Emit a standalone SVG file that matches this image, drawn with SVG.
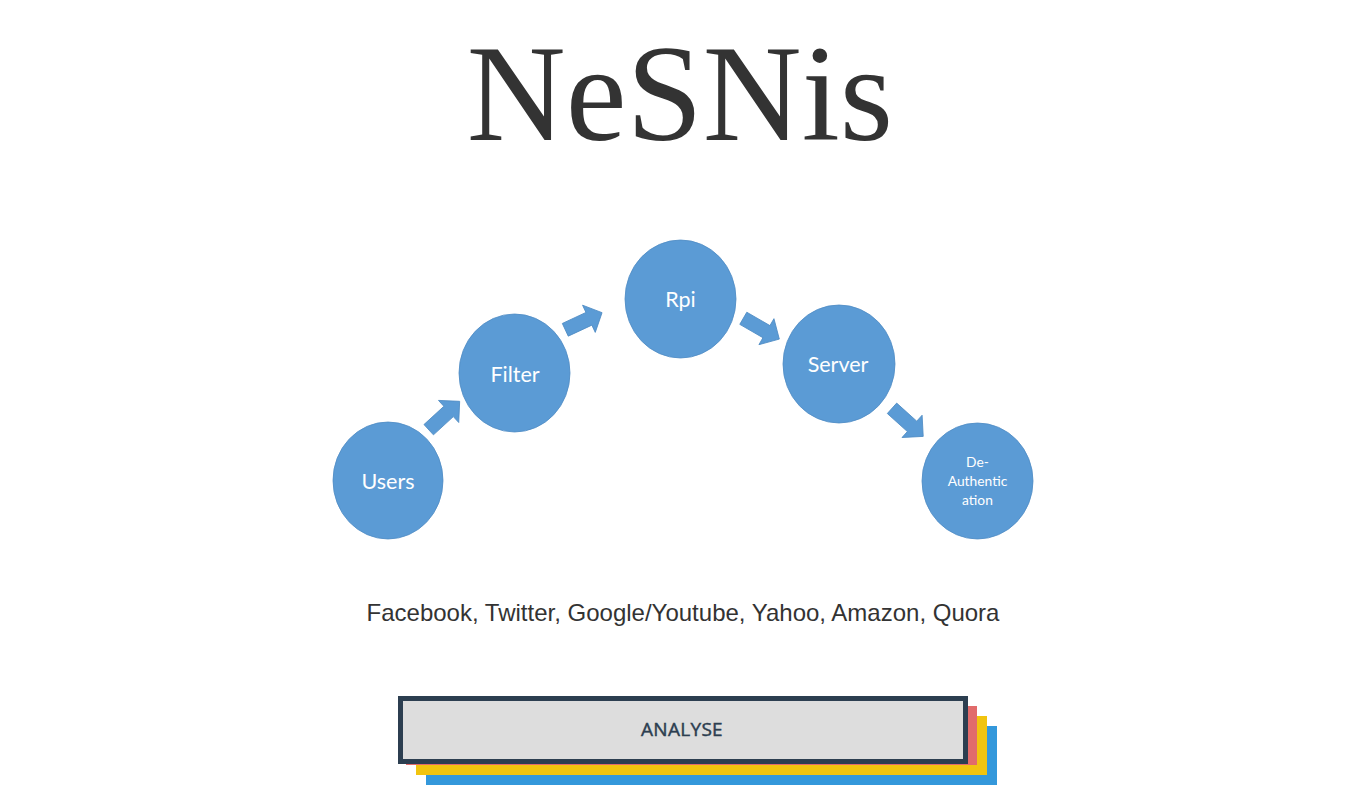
<svg xmlns="http://www.w3.org/2000/svg" width="1366" height="804" viewBox="0 0 1366 804">
<defs>
<style>
.node{fill:#5b9bd5;stroke:#4f8cc4;stroke-width:0.8}
.lbl{fill:#ffffff;font-family:Lato,"Open Sans","Liberation Sans",sans-serif;text-anchor:middle}
.arrow{fill:#5b9bd5;stroke:#4f8cc4;stroke-width:0.8}
</style>
<polygon id="arr" points="0,-7 27,-7 27,-15 42,0 27,15 27,7 0,7"/>
</defs>
<rect width="1366" height="804" fill="#ffffff"/>
<text x="680" y="140" font-family="'Liberation Serif','Times New Roman',serif" font-size="137" fill="#333333" text-anchor="middle">NeSNis</text>
<g id="connectors">
<use href="#arr" class="arrow" transform="translate(428.7,429.7) rotate(-42.5)"/>
<use href="#arr" class="arrow" transform="translate(565.3,329.8) rotate(-25) scale(0.965,1)"/>
<use href="#arr" class="arrow" transform="translate(743.3,318.3) rotate(30) scale(0.99,1)"/>
<use href="#arr" class="arrow" transform="translate(892,408.3) rotate(42)"/>
</g>
<g id="users"><ellipse class="node" cx="388" cy="480.5" rx="55" ry="58.5"/><text class="lbl" x="388" y="489" font-size="21.5">Users</text></g>
<g id="filter"><ellipse class="node" cx="514.5" cy="373" rx="55.5" ry="59"/><text class="lbl" x="515" y="382" font-size="21.5">Filter</text></g>
<g id="rpi"><ellipse class="node" cx="680.5" cy="299" rx="55.5" ry="59"/><text class="lbl" x="680.5" y="307" font-size="21.5">Rpi</text></g>
<g id="server"><ellipse class="node" cx="839" cy="364" rx="56" ry="59"/><text class="lbl" x="838" y="372" font-size="21.5">Server</text></g>
<g id="deauth"><ellipse class="node" cx="977.5" cy="481" rx="55.5" ry="58"/><text class="lbl" font-size="13.8"><tspan x="977.5" y="467">De-</tspan><tspan x="977.5" y="486">Authentic</tspan><tspan x="977.5" y="505">ation</tspan></text></g>
<text x="683" y="621" font-family="'Liberation Sans',Arial,sans-serif" font-size="24" fill="#333333" text-anchor="middle">Facebook, Twitter, Google/Youtube, Yahoo, Amazon, Quora</text>
<g id="analyse">
<rect x="426" y="726" width="571" height="59" fill="#3498db"/>
<rect x="416" y="716" width="571" height="59" fill="#f1c40f"/>
<rect x="406" y="706" width="571" height="59" fill="#e16b6b"/>
<rect x="400.5" y="698.5" width="565" height="63" fill="#dddddd" stroke="#2c3e50" stroke-width="5"/>
<text x="682" y="736" font-family="'Open Sans','Noto Sans',sans-serif" font-size="19" letter-spacing="0.3" fill="#2c3e50" stroke="#2c3e50" stroke-width="0.45" text-anchor="middle">ANALYSE</text>
</g>
</svg>
